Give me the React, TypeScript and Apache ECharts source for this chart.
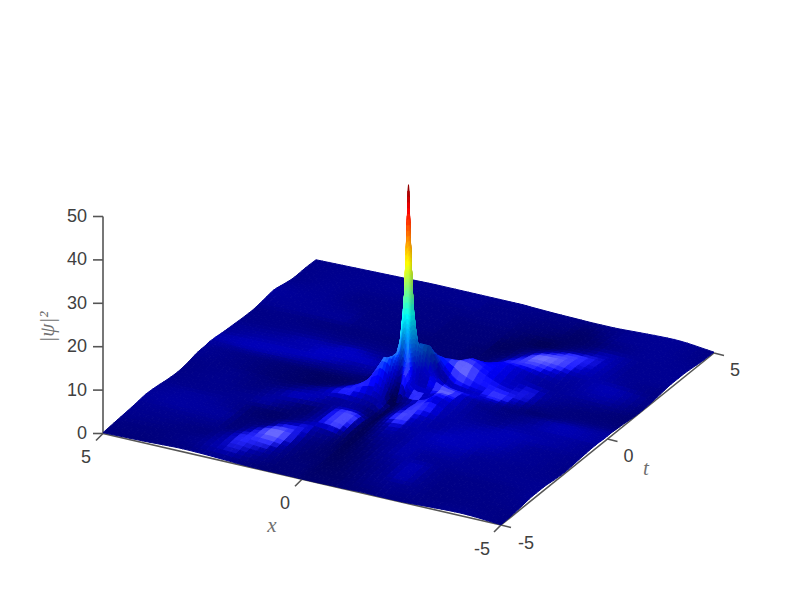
import React, { useEffect, useRef } from "react";
import * as echarts from "echarts";

// grid of the surface: columns run along x, rows along t (both read from high to low)
const xGrid = [5,4,3,2.5,2,1.5,1,.7,.4,.2,.1,0,-.1,-.2,-.4,-.7,-1,-1.5,-2,-2.5,-3,-4,-5];
const tGrid = [5,4.5,4,3.5,3,2.5,2,1.5,1,.7,.4,.2,.1,0,-.1,-.2,-.4,-.7,-1,-1.5,-2,-2.5,-3,-3.5,-4,-4.5,-5];

// |psi|^2
const psiRows = [
[.4,.6,.8,.9,1,1,1,1,1,1,1,1,1,1,.9,.8,.7,.6,.5,.5,.7,1,.2],
[.5,.7,.8,.9,.9,.9,1,1,1,1,1,1,1,1,.9,.8,.6,.5,.4,.5,.8,.9,.3],
[.4,.8,.9,.9,1,.9,.9,.9,.9,.9,.9,.9,.9,.9,.8,.7,.5,.4,.4,.6,.9,.9,.6],
[.8,.9,.9,.9,.9,.8,.8,.8,.8,.8,.8,.8,.8,.8,.7,.6,.4,.4,.7,1,1,.8,.8],
[1.3,1,.9,.8,.8,.7,.7,.7,.7,.7,.7,.7,.7,.7,.6,.5,.6,1,1.6,1.8,1.5,.8,.8],
[.9,1,1,.9,.8,.7,.6,.6,.6,.6,.6,.6,.6,.6,.6,.5,.8,1.6,2.4,2.3,1.6,1,.5],
[.6,1,1,.9,.9,.8,.7,.6,.6,.6,.6,.6,.6,.7,.7,.7,1.2,2.4,2.8,2.2,1.4,1,.2],
[.7,1.1,1.2,1.1,1.1,1,.9,.9,.9,.9,.9,.9,1,1.1,1.2,1.6,3,4,3,1.8,1.1,.9,.1],
[.9,1.2,1.4,1.5,1.6,1.4,1.2,1.2,1.3,1.4,1.4,1.5,1.6,2,3,4.5,6,4,2.2,1.5,1,.8,.3],
[1,1.2,1.4,1.6,1.6,1.5,1.4,1.5,1.8,2.2,2.4,2.8,3,4,6,6.5,5.5,3.2,2,1.4,.9,.8,.5],
[1.2,1.2,1.3,1.4,1.4,1.3,1.4,1.8,3,4,5,6,7,8,9,6,3.5,2.4,1.9,1.4,.9,.9,.6],
[1.3,1.1,1.1,1.1,1,1,1.3,2,3.5,7,9,13,10,11,11,5,2.8,2.2,1.9,1.2,.8,1,.7],
[1.3,1,1,1,.9,.9,1.2,2,4,8,13,24,15,11,9.5,4.5,2.8,2.3,1.9,1.2,.8,1,.7],
[1.4,1,.8,.8,.7,.8,1.1,2.2,4.5,12,22,48,22,13,7,4,3,2.4,1.9,1.2,.8,1,.7],
[1.3,.9,.8,.7,.7,.8,1.2,2.5,5,9,13,24,13,8,5,3.2,2.8,2.6,2,1.2,.9,1,.7],
[1.2,.9,.8,.7,.6,.7,1.3,3,7,9.5,8,13,8,4,3,2.8,3,2.6,1.8,1.2,.9,1,.7],
[1.2,.9,.7,.7,.6,.8,1.5,4,9,9,3,2,6,3,1.8,2.2,3.4,2.4,1.6,1.1,.9,1,.8],
[1,.9,.7,.7,.8,1.2,2.4,4,6,4.5,1.2,.4,.6,1,1.2,2,3.6,2,1.4,1.1,1,1,.8],
[.6,.8,.7,.8,1.1,1.6,2.4,2.6,2.4,1.6,.6,.3,.5,.9,1.4,2.2,3,1.8,1.4,1.1,1,1,.7],
[.3,.6,.8,1,1.3,1.6,1.7,1.6,1.4,.8,.5,.3,.5,1,1.5,2,2,1.5,1.4,1.1,1,.9,.5],
[.5,.6,.7,.8,.9,1,1.6,2.2,2.2,1.6,.9,.5,.5,.7,1.1,1.5,1.6,1.4,1.3,1.1,1,.9,.3],
[.9,.7,.6,.6,.6,1,1.8,2.2,2,1.3,.8,.4,.4,.5,.8,1.2,1.4,1.3,1.2,1,.9,.7,.5],
[1.1,.8,.6,.5,.7,1.5,1.7,1.4,1,.7,.5,.3,.3,.4,.6,.9,1.1,1.2,1.1,.9,.8,.7,.8],
[.8,.8,.6,.7,1.2,1.6,1,.7,.5,.4,.3,.2,.2,.3,.4,.6,.9,1,1,.8,.7,.7,.8],
[.6,.7,.7,1,1.3,1,.6,.4,.3,.2,.2,.2,.2,.2,.3,.5,.7,.9,.8,.7,.6,.7,.5],
[.4,.6,.8,1,.9,.5,.3,.2,.2,.2,.1,.1,.1,.2,.2,.3,.5,.6,.6,.5,.5,.6,.2],
[.2,.4,.7,.6,.4,.2,.1,.1,.1,.1,.05,.05,.05,.05,.05,.1,.1,.2,.1,.1,.3,.6,.05],
];

// lighting of the surface: 0 darkest, 5 unlit, 9 brightest highlight
const lightRows = [
[5,5,5,4.5,4.5,4.5,4.5,4.5,4.5,4.5,4.5,4.5,4.5,4.5,4.5,4.5,4.5,4.5,4.5,5,5,5,5],
[5,5,5,5,4.5,4.5,4.5,4.5,4,4,4,4,4,4,4,4,4,4,3,4,5,5,5],
[5,5,4.5,4.5,4,4,4,4,4,4,4,4,4,4,4,3.5,3.5,3,2.5,3,4,5,5],
[5,5,4,4,4,4,4,3.5,3.5,3.5,3.5,3.5,3.5,3.5,3.5,3,2.5,1.5,2.5,4,6,5,5],
[5,5,4.5,4,4,4,4,3.5,3.5,3.5,3.5,3.5,3.5,3.5,3.5,2,2,3,5.5,7.5,6.5,5,5],
[5,5,5,4,4,4,3.5,3.5,3.5,3.5,3.5,3.5,3.5,3,3,2.5,2.5,5.5,9,8,6,5,4.5],
[4.5,4,3.5,3.5,3.5,3.5,3.5,3.5,3.5,3.5,3.5,3.5,3.5,3,3,3,4,7,7.5,6,5,6,5],
[4.5,4,4,4,4,4,4,4,4,4,4,4,4,3.5,3,3.5,5,6,5,4.5,5,5.5,4.5],
[5,5,5.5,5.5,6,5.5,5,5,5,5,5,5,4.5,4,3.5,5,7,6,5.5,6.5,5,4,3.5],
[5,5.5,5.5,6,6,6,5.5,5.5,5.5,5,5,5,5,5,5.5,7,9,6.5,6.5,6.5,4.5,3.5,3.5],
[5.5,6,6,6,5.5,5,5,5,5.5,5.5,5.5,5.5,5.5,5.5,5,5,7,6,7.5,5.5,3.5,3.5,4],
[5.5,6,5.5,5,4.5,4.5,4,4,5,6,6,6,4.5,4,2.5,2,5,5.5,6.5,4,3,4,5],
[5,5.5,5,4.5,4,3.5,3,3.5,5.5,6.5,6,6,4,4,2.5,3,6,6,5.5,3.5,3.5,5,5.5],
[5,5,4,3.5,3,3,2.5,3.5,6,7,6.5,6,4.5,4,3,6,8,6,4.5,3,4,5.5,5.5],
[5,4.5,3.5,3,2.5,2.5,2.5,4,6.5,7,6,6,5,4,3,7,8.5,5,4,3.5,4.5,6,5.5],
[4.5,4,3,2.5,2,2,3,5,7,7,4,5,7,5,4.5,6,9,5,3.5,3.5,4.5,6,5.5],
[4.5,4,3,2.5,2,2,4,6.5,7,6,1.5,1,7.5,5.5,8,5,7,5,4,4,5,6,5.5],
[4.5,4,3,2.5,2,3,6.5,7,6,4,1,.5,2,3,5,7.5,5.5,5,4.5,4.5,5.5,5.5,5],
[4.5,4.5,3.5,3,4,5.5,7,6,5,5,6.5,2,1.5,2.5,5,7.5,7,5,5,5.5,6,5.5,5],
[5,5,4,5,6,5.5,4,4.5,4,3,3,1.5,1.5,3,6.5,8,5.5,5,5.5,6,6,5,5],
[5,5,5,5.5,4,2.5,4.5,7,8,7,3.5,1.5,1.5,3,4.5,6,5,5.5,6,6,5.5,5,5],
[5,5.5,5,3,2.5,3,4.5,7,8,5.5,3,1.5,1.5,2,3.5,4.5,4.5,5.5,5.5,5.5,5,5,5],
[5,5.5,5.5,3.5,3.5,6,6.5,4.5,4,3,2.5,2,1.5,2,2.5,3.5,4.5,5.5,5,5,5,5,5],
[5,5,5,3.5,6,9,6,4,3.5,3,3,2.5,2,2,2.5,3,4,5,6,5,4.5,4.5,5],
[5,4.5,4,5,7,7,5,4,3.5,3.5,3.5,3,2.5,2.5,2.5,3,3.5,4.5,6,5,4.5,4.5,5],
[4.5,4,4.5,5.5,6.5,5.5,4.5,4,4,4,3.5,3.5,3,3,3,3,3.5,4.5,5,5,4.5,4.5,5],
[4.5,4,4,5,5,4.5,4,4,4,4,4,3.5,3.5,3.5,3.5,3.5,4,4,5,5,5,5,5],
];

const zTicks = [0, 10, 20, 30, 40, 50];
const xTicks = [5, 0, -5];
const tTicks = [-5, 0, 5];
const colorMax = 47.5;

// oblique view of the box: screen position of (x, t, z)
const project = (x: number, t: number, z: number): [number, number] => [
  408.5 - 39.8 * x + 21.3 * t,
  393.25 - 9.15 * x - 17.2 * t - 4.34 * z,
];

const lerp = (a: number, b: number, f: number) => a + (b - a) * f;

function jet(f: number): [number, number, number] {
  const v = Math.max(0, Math.min(1, f));
  const ramp = (c: number) => Math.max(0, Math.min(1, 1.5 - Math.abs(4 * v - c)));
  return [ramp(3) * 255, ramp(2) * 255, ramp(1) * 255];
}

function shade(z: number, light: number): string {
  const [r, g, b] = jet(z / colorMax);
  const dim = z > 8 ? 0.85 : 1 - (0.15 * Math.max(0, z - 3)) / 5;
  const gain = (light <= 5 ? 0.5 + 0.1 * light : 1 + (light - 5) * 0.2) * dim;
  const spec = Math.max(0, light - 6) * 38;
  const ch = (c: number) => Math.round(Math.min(255, c * gain + spec));
  return `rgb(${ch(r)},${ch(g)},${ch(b)})`;
}

// display smoothing between the read samples: monotone cubic, straight on steep spans
function hermite(g: number[], v: number[], i: number, f: number): number {
  const f0 = v[i], f1 = v[i + 1];
  if (Math.abs(f1 - f0) > 4) return lerp(f0, f1, f);
  const n = g.length;
  const h = g[i + 1] - g[i];
  const tan = (k: number) => {
    if (k <= 0 || k >= n - 1) return (v[Math.min(k + 1, n - 1)] - v[Math.max(k - 1, 0)]) / (g[Math.min(k + 1, n - 1)] - g[Math.max(k - 1, 0)]);
    const s0 = (v[k] - v[k - 1]) / (g[k] - g[k - 1]);
    const s1 = (v[k + 1] - v[k]) / (g[k + 1] - g[k]);
    if (s0 * s1 <= 0) return 0;
    return (2 * s0 * s1) / (s0 + s1);
  };
  const m0 = tan(i) * h, m1 = tan(i + 1) * h;
  const f2 = f * f, f3 = f2 * f;
  return (2 * f3 - 3 * f2 + 1) * f0 + (f3 - 2 * f2 + f) * m0 + (-2 * f3 + 3 * f2) * f1 + (f3 - f2) * m1;
}

function sample(rows: number[][], r: number, c: number, a: number, b: number): number {
  const col = rows.map((row, k) => (Math.abs(k - r) <= 2 ? hermite(xGrid, row, c, a) : row[c] + (row[c + 1] - row[c]) * a));
  return hermite(tGrid, col, r, b);
}

function surfaceCell(_: any, api: any) {
  const r = api.value(0);
  const c = api.value(1);
  const x0 = xGrid[c], x1 = xGrid[c + 1], t0 = tGrid[r], t1 = tGrid[r + 1];
  const zs = [psiRows[r][c], psiRows[r][c + 1], psiRows[r + 1][c], psiRows[r + 1][c + 1]];
  const range = Math.max(...zs) - Math.min(...zs);
  const byZ = Math.ceil(range / 2);
  const nx = Math.max(1, Math.ceil(Math.abs(x1 - x0) / 0.17), byZ);
  const nt = Math.max(1, Math.ceil(Math.abs(t1 - t0) / 0.17), byZ);
  const at = (i: number, j: number) => {
    const a = i / nx, b = j / nt;
    return api.coord(project(lerp(x0, x1, a), lerp(t0, t1, b), sample(psiRows, r, c, a, b)));
  };
  const children: any[] = [];
  for (let j = 0; j < nt; j++) {
    for (let i = 0; i < nx; i++) {
      const a = (i + 0.5) / nx, b = (j + 0.5) / nt;
      const fill = shade(sample(psiRows, r, c, a, b), sample(lightRows, r, c, a, b));
      children.push({
        type: "polygon",
        silent: true,
        shape: { points: [at(i, j), at(i + 1, j), at(i + 1, j + 1), at(i, j + 1)] },
        style: { fill, stroke: fill, lineWidth: 1 },
      });
    }
  }
  return { type: "group", children };
}

const axisColor = "#555555";
const labelColor = "#404040";
const titleColor = "#707070";

function axisItem(_: any, api: any) {
  const line = (a: [number, number, number], b: [number, number, number]) => {
    const p = api.coord(project(a[0], a[1], a[2]));
    const q = api.coord(project(b[0], b[1], b[2]));
    return {
      type: "line",
      silent: true,
      shape: { x1: p[0], y1: p[1], x2: q[0], y2: q[1] },
      style: { stroke: axisColor, lineWidth: 1.6 },
    };
  };
  const text = (s: string, pos: [number, number], font: string, fill: string, rotation = 0) => ({
    type: "text",
    silent: true,
    x: pos[0],
    y: pos[1],
    rotation,
    style: { text: s, font, fill, align: "center", verticalAlign: "middle" },
  });
  const sans = '18px "Liberation Sans", Arial, sans-serif';
  const serif = 'italic 21px "Liberation Serif", "DejaVu Serif", serif';
  const kids: any[] = [];
  kids.push(line([5, -5, 0], [5, -5, 50]));
  kids.push(line([5, -5, 0], [-5, -5, 0]));
  kids.push(line([-5, -5, 0], [-5, 5, 0]));
  zTicks.forEach((z) => {
    const p = api.coord(project(5, -5, z));
    kids.push({
      type: "line",
      silent: true,
      shape: { x1: p[0], y1: p[1], x2: p[0] - 10, y2: p[1] },
      style: { stroke: axisColor, lineWidth: 1.6 },
    });
    kids.push(text(String(z), [p[0] - 16 - (z === 0 ? 5 : 10), p[1] - 0.5], sans, labelColor));
  });
  xTicks.forEach((x) => {
    const p = api.coord(project(x, -5, 0));
    kids.push({
      type: "line",
      silent: true,
      shape: { x1: p[0], y1: p[1], x2: p[0] - 7, y2: p[1] + 7 },
      style: { stroke: axisColor, lineWidth: 1.6 },
    });
    kids.push(text(String(x), [p[0] - (x < 0 ? 19 : 17), p[1] + 23.5], sans, labelColor));
  });
  tTicks.forEach((t) => {
    const p = api.coord(project(-5, t, 0));
    kids.push({
      type: "line",
      silent: true,
      shape: { x1: p[0], y1: p[1], x2: p[0] + 10, y2: p[1] + 2.5 },
      style: { stroke: axisColor, lineWidth: 1.6 },
    });
    kids.push(text(String(t), [p[0] + (t < 0 ? 25 : 21), p[1] + (t < 0 ? 18 : 17)], sans, labelColor));
  });
  kids.push(text("x", api.coord([272, 525]), serif, titleColor));
  kids.push(text("t", api.coord([646, 468]), serif, titleColor));
  kids.push(text("|ψ|²", api.coord([47, 327]), serif, titleColor, Math.PI / 2));
  return { type: "group", children: kids };
}

export default function App() {
  const ref = useRef<HTMLDivElement>(null);
  useEffect(() => {
    document.body.style.margin = "0";
    const chart = echarts.init(ref.current!, null, { renderer: "svg" });
    const cells: number[][] = [];
    for (let r = 0; r < tGrid.length - 1; r++) {
      for (let c = 0; c < xGrid.length - 1; c++) cells.push([r, c]);
    }
    chart.setOption({
      animation: false,
      backgroundColor: "#ffffff",
      grid: { left: 0, right: 0, top: 0, bottom: 0 },
      xAxis: { type: "value", min: 0, max: 789, show: false },
      yAxis: { type: "value", min: 0, max: 592, inverse: true, show: false },
      series: [
        { type: "custom", coordinateSystem: "cartesian2d", silent: true, clip: false, z: 1, renderItem: axisItem, data: [[0, 0]] },
        { type: "custom", coordinateSystem: "cartesian2d", silent: true, clip: false, z: 2, renderItem: surfaceCell, data: cells, encode: { x: 0, y: 1 } },
      ],
    });
    return () => chart.dispose();
  }, []);
  return <div ref={ref} style={{ width: 789, height: 592 }} />;
}
